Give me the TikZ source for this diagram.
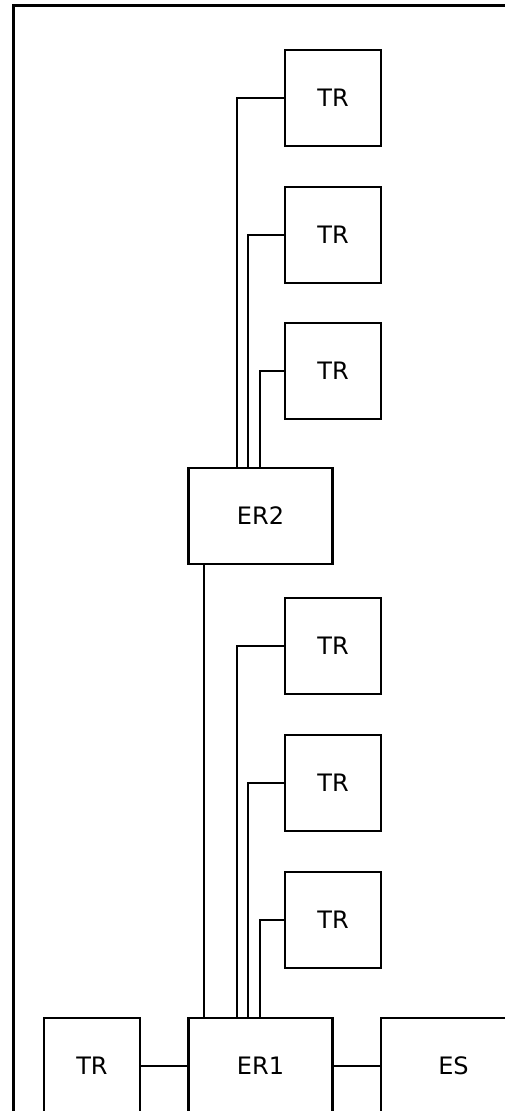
\documentclass[tikz,border=0pt]{standalone}
\usepackage{fontspec}
\setmainfont{DejaVu Sans}
\begin{document}
\begin{tikzpicture}[x=1pt,y=-1pt,
  box/.style={draw,line width=2.2pt,inner sep=0pt,minimum width=96pt,minimum height=96pt,font=\fontsize{24}{28}\selectfont},
  wide/.style={box,minimum width=144pt},
  conn/.style={line width=1.5pt},
  trunk/.style={line width=2.2pt}]
\useasboundingbox (0,0) rectangle (504,1111);
\draw[line width=3pt] (13,5) rectangle (530,1130);
% upper group
\node[box] (ta) at (333,98) {TR};
\node[box] (tb) at (333,235) {TR};
\node[box] (tc) at (333,371) {TR};
\node[wide] (er2) at (260.5,516) {ER2};
% lower group
\node[box] (td) at (333,646) {TR};
\node[box] (te) at (333,783) {TR};
\node[box] (tf) at (333,920) {TR};
% bottom row
\node[box] (tg) at (92,1066) {TR};
\node[wide] (er1) at (260.5,1066) {ER1};
\node[wide,minimum width=145pt] (es) at (453.5,1066) {ES};
% connectors
\draw[conn] (ta.west) -| ([xshift=-23.5pt]er2.north);
\draw[conn] (tb.west) -| ([xshift=-12.5pt]er2.north);
\draw[conn] (tc.west) -| ([xshift=-0.5pt]er2.north);
\draw[conn] (td.west) -| ([xshift=-23.5pt]er1.north);
\draw[conn] (te.west) -| ([xshift=-12.5pt]er1.north);
\draw[conn] (tf.west) -| ([xshift=-0.5pt]er1.north);
\draw[trunk] ([xshift=-56.5pt]er2.south) -- ([xshift=-56.5pt]er1.north);
\draw[conn] (tg.east) -- (er1.west);
\draw[conn] (er1.east) -- (es.west);
\end{tikzpicture}
\end{document}
